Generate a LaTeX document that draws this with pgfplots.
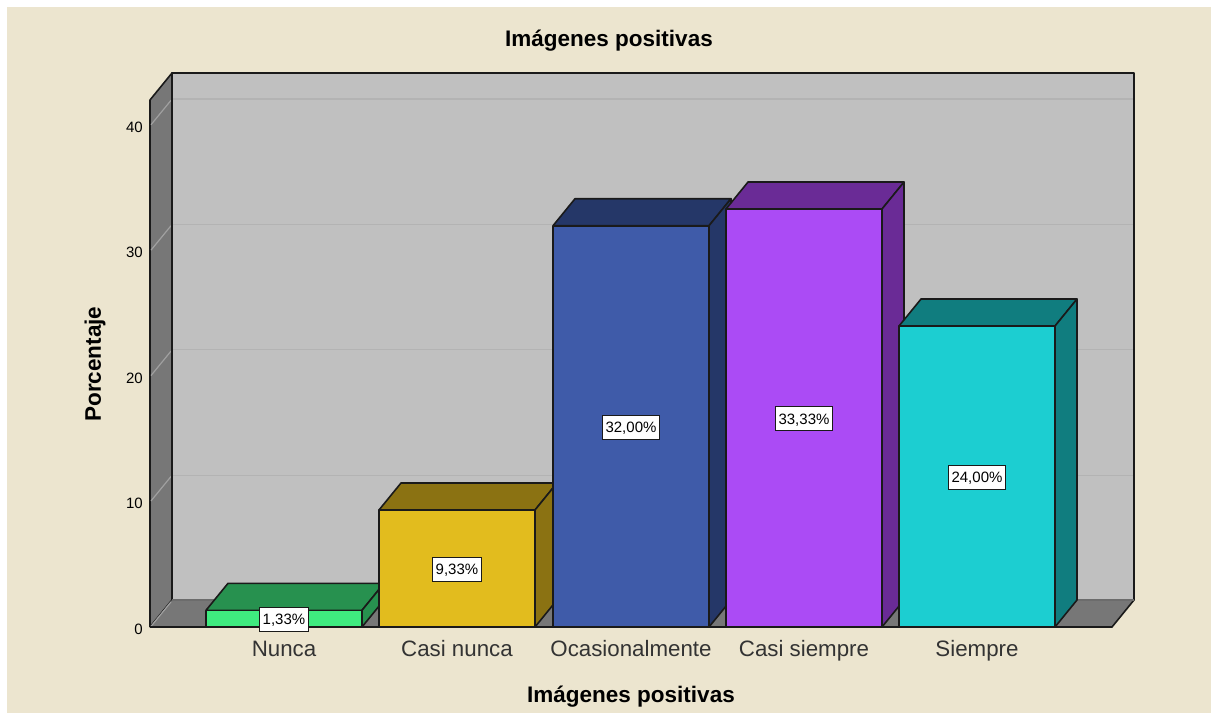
\documentclass[border=0pt]{standalone}
\usepackage{fontspec}
\setmainfont{Liberation Sans}
\usepackage{pgfplots}
\pgfplotsset{compat=1.18}
\definecolor{bgc}{HTML}{ECE5CF}
\definecolor{wallc}{HTML}{C0C0C0}
\definecolor{sidec}{HTML}{777777}
\definecolor{gridb}{HTML}{B3B3B3}
\definecolor{grids}{HTML}{A0A0A0}
\definecolor{ln}{HTML}{1A1A1A}
\definecolor{ga}{HTML}{3FEB7F}\definecolor{gb}{HTML}{27914F}
\definecolor{ya}{HTML}{E2BC1E}\definecolor{yb}{HTML}{8B7212}
\definecolor{ba}{HTML}{3F5BA9}\definecolor{bb}{HTML}{253768}
\definecolor{pa}{HTML}{AB4BF5}\definecolor{pb}{HTML}{6A2B96}
\definecolor{ta}{HTML}{1CCED1}\definecolor{tb}{HTML}{107D7F}
\pgfplotsset{
  poly/.style={draw=ln,line width=1.6pt,line join=round,mark=none},
}
\begin{document}
\begin{tikzpicture}
\fill[white] (-150pt,-86pt) rectangle (1061pt,627pt);
\fill[bgc] (-143pt,-86pt) rectangle (1061pt,620pt);
\begin{axis}[
  x=1pt,y=12.54pt,
  xmin=150,xmax=1134,ymin=0,ymax=44.179,
  clip=false,
  axis line style={draw=none},
  major tick style={draw=none},
  xtick={284,457,631,804,977},
  xticklabels={Nunca,Casi nunca,Ocasionalmente,Casi siempre,Siempre},
  ytick={0,10,20,30,40},
  /pgf/number format/assume math mode=true,
  xticklabel style={font=\fontsize{22.3}{24}\selectfont,color=black!80,anchor=center,yshift=-23.5pt,inner sep=0pt,text height=16pt,text depth=5pt},
  yticklabel style={font=\fontsize{15}{17}\selectfont,anchor=east,inner sep=0pt,xshift=-7pt,yshift=-2pt},
  every axis x label/.style={at={(axis cs:631,-5.58)},anchor=center},
  every axis y label/.style={at={(axis cs:95,20.97)},anchor=center,rotate=90},
  every axis title/.style={at={(axis cs:609,46.73)},anchor=center},
  xlabel={\fontsize{22.5}{24}\selectfont\bfseries Imágenes positivas},
  ylabel={\fontsize{22.5}{24}\selectfont\bfseries Porcentaje},
  title={\fontsize{22.5}{24}\selectfont\bfseries Imágenes positivas},
  nodes near coords align={center},
]
% walls
\addplot[poly,fill=wallc] coordinates {(172,2.153)(172,44.179)(1134,44.179)(1134,2.153)(172,2.153)};
\addplot[poly,fill=sidec] coordinates {(150,0)(150,42.026)(172,44.179)(172,2.153)(150,0)};
\addplot[poly,fill=sidec,draw=none] coordinates {(150,0)(1112,0)(1134,2.153)(172,2.153)(150,0)};
% grid
\addplot[gridb,line width=1.2pt,mark=none] coordinates {(173,12.1)(1133,12.1)};
\addplot[gridb,line width=1.2pt,mark=none] coordinates {(173,22.1)(1133,22.1)};
\addplot[gridb,line width=1.2pt,mark=none] coordinates {(173,32.1)(1133,32.1)};
\addplot[gridb,line width=1.2pt,mark=none] coordinates {(173,42.1)(1133,42.1)};
\addplot[grids,line width=1.2pt,mark=none] coordinates {(151,0.05)(171,2.0)};
\addplot[grids,line width=1.2pt,mark=none] coordinates {(151,10.05)(171,12.0)};
\addplot[grids,line width=1.2pt,mark=none] coordinates {(151,20.05)(171,22.0)};
\addplot[grids,line width=1.2pt,mark=none] coordinates {(151,30.05)(171,32.0)};
\addplot[grids,line width=1.2pt,mark=none] coordinates {(151,40.05)(171,42.0)};
% floor edges
\addplot[ln,line width=1.6pt,mark=none] coordinates {(150,0)(1112,0)(1134,2.153)};
\addplot[ln,line width=1.6pt,mark=none] coordinates {(172,2.153)(172,44.179)};
\addplot[gray!85!black,line width=1.6pt,mark=none] coordinates {(172,2.153)(1134,2.153)};
% Nunca 1.33
\addplot[poly,fill=gb] coordinates {(206,1.33)(228,3.483)(384,3.483)(362,1.33)(206,1.33)};
\addplot[poly,fill=gb] coordinates {(362,0)(384,2.153)(384,3.483)(362,1.33)(362,0)};
\addplot[poly,fill=ga] coordinates {(206,0)(206,1.33)(362,1.33)(362,0)(206,0)};
% Casi nunca 9.33
\addplot[poly,fill=yb] coordinates {(379,9.33)(401,11.483)(557,11.483)(535,9.33)(379,9.33)};
\addplot[poly,fill=yb] coordinates {(535,0)(557,2.153)(557,11.483)(535,9.33)(535,0)};
\addplot[poly,fill=ya] coordinates {(379,0)(379,9.33)(535,9.33)(535,0)(379,0)};
% Ocasionalmente 32
\addplot[poly,fill=bb] coordinates {(553,32)(575,34.153)(731,34.153)(709,32)(553,32)};
\addplot[poly,fill=bb] coordinates {(709,0)(731,2.153)(731,34.153)(709,32)(709,0)};
\addplot[poly,fill=ba] coordinates {(553,0)(553,32)(709,32)(709,0)(553,0)};
% Casi siempre 33.33
\addplot[poly,fill=pb] coordinates {(726,33.33)(748,35.483)(904,35.483)(882,33.33)(726,33.33)};
\addplot[poly,fill=pb] coordinates {(882,0)(904,2.153)(904,35.483)(882,33.33)(882,0)};
\addplot[poly,fill=pa] coordinates {(726,0)(726,33.33)(882,33.33)(882,0)(726,0)};
% Siempre 24
\addplot[poly,fill=tb] coordinates {(899,24)(921,26.153)(1077,26.153)(1055,24)(899,24)};
\addplot[poly,fill=tb] coordinates {(1055,0)(1077,2.153)(1077,26.153)(1055,24)(1055,0)};
\addplot[poly,fill=ta] coordinates {(899,0)(899,24)(1055,24)(1055,0)(899,0)};
% labels
\addplot[draw=none,mark=none,point meta=explicit symbolic,nodes near coords,
  every node near coord/.append style={fill=white,draw=ln,line width=1pt,
    font=\fontsize{15}{17}\selectfont,text=black,inner xsep=3pt,inner ysep=0pt,
    text height=11pt,text depth=0pt,
    minimum height=24pt,anchor=center,yshift=-0.8pt}]
  coordinates {(284,0.665)[1,33\%] (457,4.665)[9,33\%] (631,16)[32,00\%] (804,16.665)[33,33\%] (977,12)[24,00\%]};
\end{axis}
\end{tikzpicture}
\end{document}
